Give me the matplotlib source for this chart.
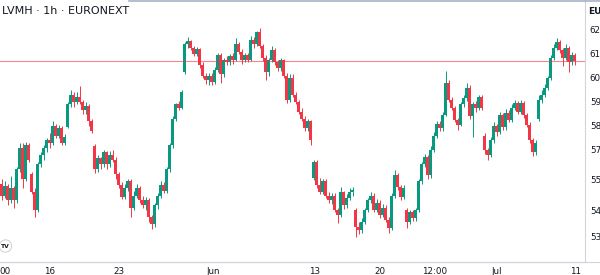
import matplotlib
matplotlib.use("Agg")
import matplotlib.pyplot as plt
from matplotlib.lines import Line2D

# hourly LVMH candles, EUR
opens = [556, 551, 555, 549, 554, 549, 562, 571, 558, 572,
         560, 552.5, 545, 564, 568, 571, 574, 573, 580, 576,
         579, 573, 579.5, 589, 593, 590, 592, 590, 586.5, 588.5,
         582, 571.5, 562, 566.5, 564, 569, 564, 568, 566, 560,
         555.5, 550.5, 554, 557, 546, 551, 554, 549, 547, 549,
         542, 539, 547, 551, 555.5, 553, 562, 572, 583, 589,
         587.5, 602.5, 614, 615.5, 612.5, 610, 612, 605.5, 601, 599,
         601, 598.5, 603.5, 609.5, 601.5, 607.5, 606.5, 609, 607.5, 614,
         611, 607.5, 609.5, 607.5, 616, 614, 619, 613.5, 608.5, 602.5,
         607.5, 611.5, 606.5, 604, 607.5, 601, 591, 600, 593, 590,
         586, 583, 579, 582, 558.5, 565, 555.5, 552.5, 557, 551,
         549, 551, 545, 543, 552.5, 547, 550, 552.5, 545, 538,
         536.5, 540, 545, 549, 551, 545, 548, 543, 546, 541,
         537.5, 551, 559.5, 554.5, 550.5, 545, 540, 544, 541.5, 545,
         557, 564, 567, 559.5, 570, 576, 581, 579, 584.5, 598,
         591, 587.5, 582.5, 580.5, 589, 591.5, 596, 584, 589, 587.5,
         592, 576, 570, 568, 574, 580, 577.5, 584.5, 579.5, 585.5,
         582.5, 587.5, 589.5, 586, 589.5, 584.5, 580.5, 574, 569, 583,
         591, 593, 596, 600, 608.5, 612.5, 615, 611.5, 608.5, 612.5,
         606.5, 609.5]
highs = [558, 557, 556, 559, 555, 563, 573, 573, 573.5, 573,
         561, 554, 565, 569, 572, 575, 577, 582, 581, 580.5,
         580, 576.5, 590, 595, 594, 594, 596.5, 591, 590, 589,
         583, 572.5, 568, 567, 570, 569.5, 569.5, 570, 567, 561,
         556.5, 556, 558, 558, 553, 556, 555, 551, 550.5, 550,
         543, 548, 552, 557, 556.5, 563, 573, 584, 589.5, 590.5,
         595, 615, 617, 616, 613.5, 613, 612.5, 606.5, 602, 602,
         602, 604.5, 610.5, 610.5, 608.5, 609, 610, 610.5, 616.5, 615,
         612, 610.5, 610.5, 617.5, 617, 619.5, 621, 614, 609.5, 608.5,
         613.5, 612.5, 607.5, 608.5, 608, 602, 601.5, 601.5, 594, 591,
         587.5, 584, 583, 582.5, 566, 566, 558.5, 558, 558, 552.5,
         552, 552, 546, 554.5, 553, 551.5, 554, 554.5, 546, 540,
         541.5, 546, 550, 552.5, 552, 549.5, 549, 547.5, 547, 542,
         552, 561.5, 560.5, 555.5, 555.5, 546, 545, 545, 546, 558,
         565, 568.5, 568, 571.5, 577.5, 582, 582, 586, 603, 599,
         592, 588.5, 583.5, 590, 593, 598, 597, 590, 590.5, 593,
         593, 577, 571, 575.5, 581.5, 581, 586, 585.5, 587, 586.5,
         589, 591, 590.5, 591, 590.5, 585.5, 581.5, 575, 574, 593,
         595, 597.5, 601, 609.5, 614, 616.5, 616, 612.5, 614, 613.5,
         611, 610.5]
lows = [549, 550, 547, 548, 546, 548, 561, 554, 557, 565,
        551.5, 542, 544, 563, 566, 569, 571, 572, 575, 575,
        572, 572, 579, 588, 588, 589, 589, 585, 585, 580,
        577, 560.5, 561, 562, 563, 562, 563, 565, 558, 554,
        549.5, 549.5, 553, 542, 545, 550, 548, 546, 545, 540,
        537, 538, 545.5, 550, 552, 552, 561, 571, 582, 586.5,
        587, 601.5, 612.5, 611.5, 609, 609, 604, 600, 597.5, 597,
        597, 597.5, 602.5, 598, 600.5, 605.5, 605.5, 606, 607, 610,
        606, 606.5, 606.5, 607, 612.5, 613.5, 612.5, 607, 599, 601,
        606.5, 605.5, 603, 603, 600, 589.5, 590, 592, 589, 585,
        582, 578, 578, 572, 557.5, 554, 551.5, 551.5, 550, 548,
        547.5, 544, 539.5, 542, 545.5, 546, 549, 551, 533.75, 535,
        535.5, 539, 544, 548, 544, 544, 541.5, 542, 540, 535.5,
        536.5, 550, 553.5, 549, 549.5, 537.5, 539, 540.5, 540.5, 544,
        556, 563, 558, 558.5, 569, 575, 578, 578, 584, 590,
        586.5, 581.5, 578.5, 580, 588, 590.5, 583, 575.5, 586, 586.5,
        586.5, 568.5, 566, 567, 573, 576, 576.5, 578.5, 578.5, 581.5,
        581.5, 586.5, 585, 585, 583.5, 579.5, 573, 567.5, 568, 582,
        589.5, 592, 595, 599, 607.5, 611.5, 610.5, 605, 607.5, 602.5,
        605.5, 605.5]
closes = [551, 555, 549, 554, 549, 562, 571, 558, 572, 566,
          552.5, 545, 564, 568, 571, 574, 573, 580, 576, 579,
          573, 575.5, 589, 593, 590, 592, 590, 586.5, 588.5, 582,
          578, 562, 566.5, 564, 569, 564, 568, 566, 560, 555.5,
          550.5, 554, 557, 546, 551, 554, 549, 547, 549, 542,
          539, 547, 551, 555.5, 553, 562, 572, 583, 589, 587.5,
          594, 614, 615.5, 612.5, 610, 612, 605.5, 601, 599, 601,
          598.5, 603.5, 609.5, 601.5, 607.5, 606.5, 609, 607.5, 614, 611,
          607.5, 609.5, 607.5, 616, 614, 619, 613.5, 608.5, 602.5, 607.5,
          611.5, 606.5, 604, 607.5, 601, 591, 600, 593, 590, 586,
          583, 579, 582, 574, 565, 555.5, 552.5, 557, 551, 549,
          551, 545, 543, 552.5, 547, 550, 552.5, 553.5, 538, 536.5,
          540, 545, 549, 551, 545, 548, 543, 546, 541, 537.5,
          551, 559.5, 554.5, 550.5, 554, 540, 544, 541.5, 545, 557,
          564, 567, 559.5, 570, 576, 581, 579, 584.5, 598, 591,
          587.5, 582.5, 580.5, 589, 591.5, 596, 584, 589, 587.5, 592,
          587.5, 570, 568, 574, 580, 577.5, 584.5, 579.5, 585.5, 582.5,
          587.5, 589.5, 586, 589.5, 584.5, 580.5, 574, 569, 573, 591,
          593, 596, 600, 608.5, 612.5, 615, 611.5, 608.5, 612.5, 606.5,
          609.5, 607]

price_line = 607
x_ticks = [1.2, 16, 39, 70.5, 104.5, 126, 144.5, 165, 191.5]
x_labels = ["00", "16", "23", "Jun", "13", "20", "12:00", "Jul", "11"]
y_ticks = [620, 610, 600, 590, 580, 570, 557.5, 544.6, 533.75]
y_labels = ["62", "61", "60", "59", "58", "57", "55", "54", "53"]

UP = '#089981'
DOWN = '#f23645'
AXIS = '#d1d4dc'
TEXT = '#131722'

fig = plt.figure(figsize=(6, 2.75), dpi=100)
ax = fig.add_axes([0, 13/275, 585/600, 262/275])

idx = list(range(len(closes)))
colors = [UP if c >= o else DOWN for o, c in zip(opens, closes)]
ax.vlines(idx, lows, highs, colors=colors, linewidth=0.7)
bottoms = [min(o, c) for o, c in zip(opens, closes)]
heights = [max(abs(c - o), 0.3) for o, c in zip(opens, closes)]
ax.bar(idx, heights, bottom=bottoms, width=0.72, color=colors, linewidth=0)

ax.axhline(price_line, color=DOWN, linewidth=0.8, alpha=0.6)

ax.set_xlim(-0.5, 194.5)
ax.set_ylim(523.3, 632.5)

ax.set_xticks(x_ticks)
ax.set_xticklabels(x_labels)
ax.set_yticks(y_ticks)
ax.set_yticklabels(y_labels)
ax.yaxis.tick_right()
ax.tick_params(axis='both', length=0, labelsize=6.3, labelcolor=TEXT)
ax.tick_params(axis='x', pad=3.5)
ax.tick_params(axis='y', pad=3.5)

for s in ['top', 'left']:
    ax.spines[s].set_visible(False)
ax.spines['right'].set_color(AXIS)
ax.spines['bottom'].set_color(AXIS)
fig.add_artist(Line2D([0, 1], [13/275, 13/275], color=AXIS, linewidth=0.8))
# thin bar along the top edge
fig.add_artist(Line2D([129/600, 1], [1 - 0.7/275, 1 - 0.7/275], color='#a9b1c6', linewidth=1.2))

fig.text(2/600, 1 - 11/275, "LVMH · 1h · EURONEXT", fontsize=8, va='center', color=TEXT)
fig.text(588/600, 1 - 11/275, "EUR", fontsize=6.5, va='center', color=TEXT, fontweight='bold')
fig.text(5.5/600, 1 - 246/275, "TV", fontsize=4.3, fontweight='bold', ha='center', va='center',
         color=TEXT, bbox=dict(boxstyle='circle,pad=0.3', fc='white', ec='#c8c8c8', lw=0.6))

fig.savefig('out.png', dpi=100, facecolor='white')
